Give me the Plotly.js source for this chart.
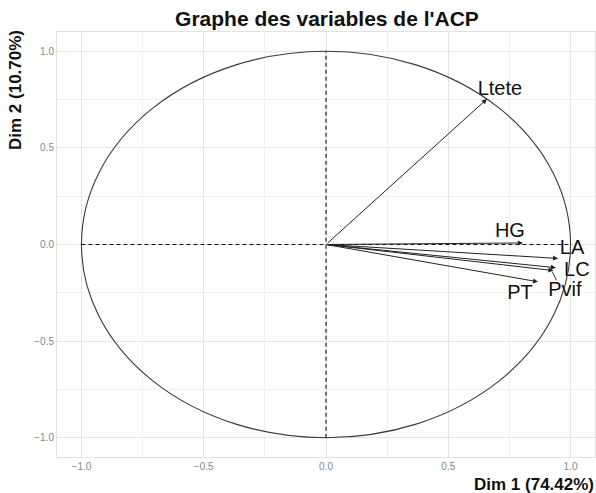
<!DOCTYPE html>
<html><head><meta charset="utf-8">
<script src="https://cdn.plot.ly/plotly-3.0.1.min.js"></script>
<style>body{margin:0;background:#fff}#plot{width:596px;height:493px}</style>
</head><body><div id="plot"></div>
<script>
const variables = ["Ltete", "HG", "LA", "LC", "Pvif", "PT"];
const dim1 = [0.658, 0.805, 0.949, 0.94, 0.93, 0.867];
const dim2 = [0.753, 0.008, -0.072, -0.12, -0.135, -0.193];
const labelX = [0.711, 0.752, 1.006, 1.026, 0.977, 0.793];
const labelY = [0.80, 0.064, -0.023, -0.135, -0.24, -0.254];
const dim1Title = "Dim 1 (74.42%)";
const dim2Title = "Dim 2 (10.70%)";
const chartTitle = "Graphe des variables de l'ACP";

const FONT = 'Liberation Sans, Arial, sans-serif';

const annotations = variables.map((v, i) => ({
  x: dim1[i], y: dim2[i], xref: 'x', yref: 'y',
  ax: 0, ay: 0, axref: 'x', ayref: 'y',
  showarrow: true, arrowhead: 2, arrowsize: 1, arrowwidth: 1, arrowcolor: '#222',
  text: ''
}));
const shapes = [
  {type: 'circle', xref: 'x', yref: 'y', x0: -1, y0: -1, x1: 1, y1: 1, line: {color: '#3a3a3a', width: 1.1}},
  {type: 'line', xref: 'x', yref: 'y', x0: -1, y0: 0, x1: 1, y1: 0, line: {color: '#111', width: 1.1, dash: '4px,3px'}},
  {type: 'line', xref: 'x', yref: 'y', x0: 0, y0: -1, x1: 0, y1: 1, line: {color: '#111', width: 1.1, dash: '4px,3px'}},
  {type: 'line', xref: 'x', yref: 'y', x0: dim1[4] - 0.005, y0: dim2[4] - 0.005, x1: labelX[4] - 0.035, y1: labelY[4] + 0.055, line: {color: '#333', width: 1}}
];

const trace = {
  x: labelX, y: labelY, text: variables, mode: 'text', type: 'scatter',
  textfont: {family: FONT, size: 20, color: '#111'},
  hoverinfo: 'none', showlegend: false, cliponaxis: false
};

const axisCommon = {
  zeroline: false, showline: true, linecolor: '#e2e2e2', mirror: true,
  gridcolor: '#e4e4e4', gridwidth: 1, dtick: 0.5, tickformat: '.1f',
  tickfont: {family: FONT, size: 10, color: '#888'},
  ticks: '', minor: {dtick: 0.25, showgrid: true, gridcolor: '#f1f1f1', gridwidth: 1}
};

const layout = {
  width: 596, height: 493,
  margin: {l: 57, r: 1, t: 32, b: 36},
  paper_bgcolor: '#fff', plot_bgcolor: '#fff',
  title: {text: '<b>' + chartTitle + '</b>', x: 327 / 596, xanchor: 'center', y: 1 - 19 / 493, yanchor: 'middle',
    font: {family: FONT, size: 21, color: '#111'}},
  xaxis: Object.assign({}, axisCommon, {range: [-1.1, 1.1],
    title: {text: '<b>' + dim1Title + '</b>', standoff: 0,
      font: {family: FONT, size: 17, color: '#111'}}}),
  yaxis: Object.assign({}, axisCommon, {range: [-1.1, 1.1],
    title: {text: '<b>' + dim2Title + '</b>', standoff: 0,
      font: {family: FONT, size: 17, color: '#111'}}}),
  shapes: shapes,
  annotations: annotations
};

Plotly.newPlot('plot', [trace], layout, {displayModeBar: false, staticPlot: true}).then(gd => {
  const xt = gd.querySelector('.xtitle');
  if (xt) { xt.setAttribute('text-anchor', 'end'); xt.setAttribute('x', 594); xt.setAttribute('y', 486); }
  const yt = gd.querySelector('.ytitle');
  if (yt) {
    yt.setAttribute('text-anchor', 'end');
    yt.setAttribute('x', 21); yt.setAttribute('y', 30);
    yt.setAttribute('transform', 'rotate(-90,21,30)');
  }
});
</script></body></html>
